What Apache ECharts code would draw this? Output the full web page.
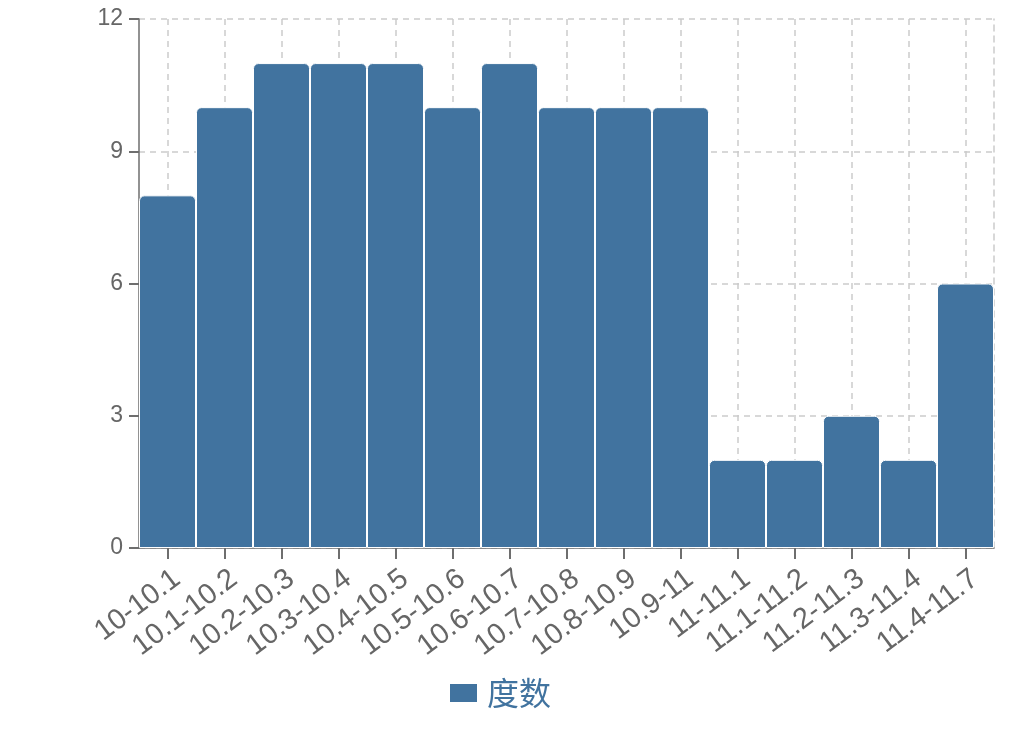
<!DOCTYPE html>
<html><head><meta charset="utf-8">
<script src="https://cdn.jsdelivr.net/npm/echarts@6/dist/echarts.min.js"></script>
<style>html,body{margin:0;padding:0;background:#fff}#c{width:1016px;height:736px}</style>
</head><body><div id="c"></div>
<script>
const categories = ['10-10.1','10.1-10.2','10.2-10.3','10.3-10.4','10.4-10.5','10.5-10.6','10.6-10.7','10.7-10.8','10.8-10.9','10.9-11','11-11.1','11.1-11.2','11.2-11.3','11.3-11.4','11.4-11.7'];
const counts = [8,10,11,11,11,10,11,10,10,10,2,2,3,2,6];
const seriesName = '度数';
const barColor = '#41739f';
const dash = {color:'#cccccc', width:1.5, type:[6,5]};
const chart = echarts.init(document.getElementById('c'));
chart.setOption({
  animation:false,
  grid:{left:139,right:22,top:19,bottom:188,containLabel:false},
  legend:{top:672,left:443,itemWidth:29,itemHeight:20,itemGap:10,
    icon:'rect',
    textStyle:{fontSize:32,color:barColor,fontFamily:'Noto Sans CJK SC',padding:[0,0,0,4]},
    data:[seriesName]},
  xAxis:[{type:'category',data:categories,
    axisLine:{show:true,lineStyle:{color:'#6e6e6e',width:1.5}},
    axisTick:{show:true,inside:false,alignWithLabel:true,length:11,lineStyle:{color:'#6e6e6e',width:2}},
    axisLabel:{rotate:37,interval:0,fontSize:29,color:'#666',margin:35,padding:[0,-12,0,0],fontFamily:'Liberation Sans'},
    splitLine:{show:true,alignWithLabel:true,lineStyle:dash}
  }],
  yAxis:[{type:'value',min:0,max:12,interval:3,
    axisLine:{show:true,lineStyle:{color:'#6e6e6e',width:1.5}},
    axisTick:{show:true,length:10,lineStyle:{color:'#6e6e6e',width:2}},
    axisLabel:{fontSize:23,color:'#666',margin:16,fontFamily:'Liberation Sans'},
    splitLine:{show:true,lineStyle:dash}
  },{type:'value',min:0,max:12,interval:3,position:'right',
    axisLine:{show:true,lineStyle:dash},axisTick:{show:false},axisLabel:{show:false},splitLine:{show:false}}],
  series:[{name:seriesName,type:'bar',data:counts,barCategoryGap:'0%',
    itemStyle:{color:barColor,borderColor:'#fff',borderWidth:1,borderRadius:[5,5,0,0]}}]
});
</script></body></html>
